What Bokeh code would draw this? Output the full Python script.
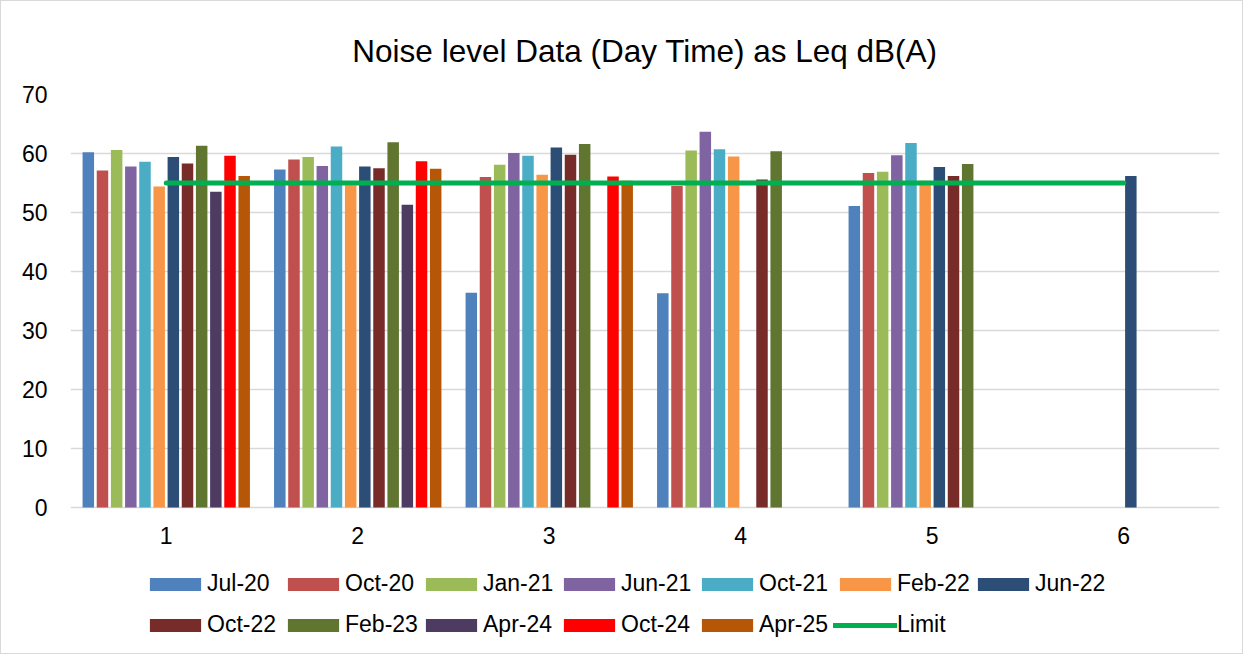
import math
from bokeh.plotting import figure
from bokeh.models import Legend, LegendItem, FixedTicker, Range1d, Title
from bokeh.core.properties import value
from bokeh.embed import file_html
from bokeh.resources import INLINE

locations = [1, 2, 3, 4, 5, 6]
tick_labels = ["1", "2", "3", "4", "5", "6"]
NA = float("nan")

series_names = ["Jul-20", "Oct-20", "Jan-21", "Jun-21", "Oct-21", "Feb-22",
                "Jun-22", "Oct-22", "Feb-23", "Apr-24", "Oct-24", "Apr-25"]
jul20 = [60.2, 57.3, 36.4, 36.3, 51.1, NA]
oct20 = [57.1, 59.0, 56.0, 54.5, 56.7, NA]
jan21 = [60.6, 59.4, 58.1, 60.5, 56.9, NA]
jun21 = [57.8, 57.9, 60.1, 63.7, 59.7, NA]
oct21 = [58.6, 61.2, 59.6, 60.7, 61.8, NA]
feb22 = [54.4, 54.6, 56.4, 59.5, 55.4, NA]
jun22 = [59.4, 57.8, 61.0, NA, 57.7, 56.2]
oct22 = [58.3, 57.5, 59.8, 55.6, 56.2, NA]
feb23 = [61.3, 61.9, 61.6, 60.4, 58.2, NA]
apr24 = [53.5, 51.3, NA, NA, NA, NA]
oct24 = [59.6, 58.7, 56.1, NA, NA, NA]
apr25 = [56.2, 57.4, 55.4, NA, NA, NA]
limit = [55, 55, 55, 55, 55, 55]
y_ticks = [0, 10, 20, 30, 40, 50, 60, 70]

series_values = [jul20, oct20, jan21, jun21, oct21, feb22,
                 jun22, oct22, feb23, apr24, oct24, apr25]
colors = ["#4F81BD", "#C0504D", "#9BBB59", "#8064A2", "#4BACC6", "#F79646",
          "#2C4D75", "#772C2A", "#5F7530", "#4D3B62", "#FF0000", "#B65708"]

FONT = "Liberation Sans"
FS = "23px"

# layout (pixels): frame spans from top 93 down to the canvas bottom; value 0 sits at 506
W, H = 1243, 654
top_px, zero_px, bottom_px = 93, 506, 654
ymax = 70
px_per_unit = (zero_px - top_px) / ymax
ymin = -(bottom_px - zero_px) / px_per_unit

p = figure(width=W, height=H, output_backend="svg", toolbar_location=None,
           x_range=Range1d(0.5, 6.5), y_range=Range1d(ymin, ymax),
           min_border_left=69, min_border_right=25, min_border_top=top_px,
           min_border_bottom=0)
p.title = Title(text="Noise level Data (Day Time) as Leq dB(A)", align="center",
                text_font=FONT, text_font_size="31.5px", text_font_style="normal",
                text_color="#000000", standoff=52)
p.outline_line_color = None
p.background_fill_color = "white"
p.border_fill_color = "white"
p.styles = {"border": "1px solid #D9D9D9"}

slot = 0.074
bw = 0.06
renderers = []
for i, (name, vals, col) in enumerate(zip(series_names, series_values, colors)):
    xs = [loc + (i - 5.5) * slot for loc, v in zip(locations, vals) if not math.isnan(v)]
    ys = [v for v in vals if not math.isnan(v)]
    r = p.vbar(x=xs, top=ys, bottom=0, width=bw, fill_color=col, line_color=None)
    renderers.append((name, r))

lr = p.line(x=locations, y=limit, line_color="#00B050", line_width=5, line_cap="round")
renderers.append(("Limit", lr))

# category labels under the zero line
p.text(x=locations, y=[0] * len(locations), text=tick_labels,
       text_font=value(FONT), text_font_size=FS, text_color="#000000",
       text_align="center", text_baseline="middle", y_offset=28)

# axes
p.xaxis.visible = False
p.yaxis.ticker = FixedTicker(ticks=y_ticks)
ax = p.yaxis[0]
ax.major_label_text_font = FONT
ax.major_label_text_font_size = FS
ax.major_label_text_color = "#000000"
ax.major_tick_line_color = None
ax.minor_tick_line_color = None
ax.axis_line_color = None
ax.major_label_standoff = 17
p.xgrid.grid_line_color = None
p.ygrid.grid_line_color = "#D9D9D9"
p.ygrid.grid_line_width = 1.5

def make_legend(items, loc):
    lg = Legend(items=[LegendItem(label=n, renderers=[r]) for n, r in items],
                orientation="horizontal", location=loc,
                label_text_font=FONT, label_text_font_size=FS,
                label_text_color="#000000",
                glyph_width=64, glyph_height=16, label_height=24,
                label_standoff=0, label_width=73, spacing=1,
                padding=0, margin=0, border_line_color=None,
                background_fill_alpha=0)
    return lg

leg1 = make_legend(renderers[:7], (73, 58))
leg2 = make_legend(renderers[7:], (73, 17))
p.add_layout(leg1, "center")
p.add_layout(leg2, "center")

open("out.html", "w").write(file_html(p, INLINE))
